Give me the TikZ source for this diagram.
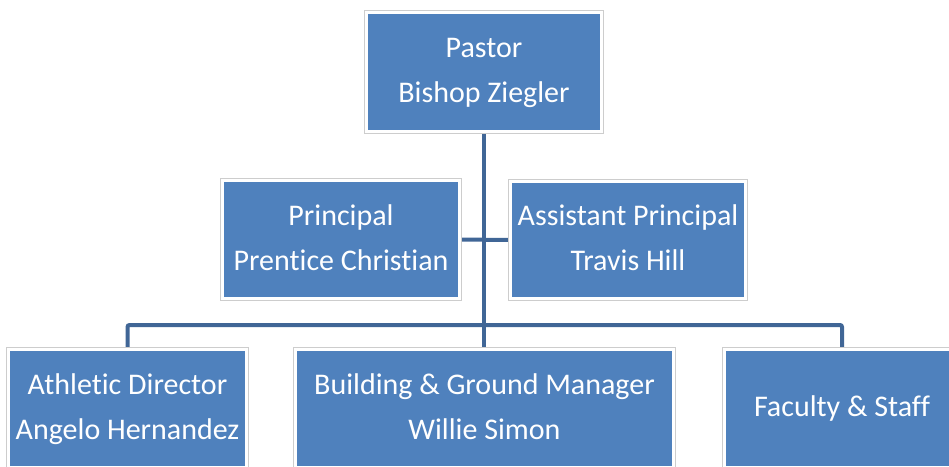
\documentclass[tikz,border=0pt]{standalone}
\usepackage{fontspec}
\setmainfont{Carlito}[Ligatures={NoCommon}]
\usetikzlibrary{backgrounds}
\definecolor{boxblue}{RGB}{79,129,189}
\definecolor{linkblue}{RGB}{64,102,150}
\definecolor{rimgrey}{RGB}{205,205,205}
\newcommand\orgstrut{\rule[-12pt]{0pt}{40pt}}
\tikzset{
  orgbox/.style={rectangle, fill=boxblue, draw=white, line width=3pt,
    preaction={draw=rimgrey, line width=5pt},
    text=white, align=center, inner sep=0pt,
    font=\fontsize{30}{45}\selectfont},
  link/.style={draw=linkblue, line width=4pt},
}
\begin{document}
\begin{tikzpicture}[x=1pt,y=-1pt]
\useasboundingbox (0,0) rectangle (949,466);
\node[orgbox, minimum width=235pt, minimum height=119pt] (pastor) at (484,72) {\orgstrut Pastor\\\orgstrut Bishop Ziegler};
\node[orgbox, minimum width=237pt, minimum height=118pt] (principal) at (341,239.5) {\orgstrut Principal\\\orgstrut Prentice Christian};
\node[orgbox, minimum width=235pt, minimum height=117pt] (assistant) at (628,240) {\orgstrut Assistant Principal\\\orgstrut Travis Hill};
\node[orgbox, minimum width=238pt, minimum height=118pt] (athletic) at (127.5,408.5) {\orgstrut Athletic Director\\\orgstrut Angelo Hernandez};
\node[orgbox, minimum width=378pt, minimum height=118pt] (building) at (484.5,408.5) {\orgstrut Building \& Ground Manager\\\orgstrut Willie Simon};
\node[orgbox, minimum width=235pt, minimum height=118pt] (faculty) at (842,408.5) {\orgstrut Faculty \& Staff};
\coordinate (bus) at (484,325);
\begin{pgfonlayer}{background}
\draw[link] (pastor.south) -- (pastor.south |- building.north);
\draw[link] (principal.east) -- (assistant.west);
\draw[link, rounded corners=2pt] (athletic.north) |- (bus) -| (faculty.north);
\end{pgfonlayer}
\end{tikzpicture}
\end{document}
